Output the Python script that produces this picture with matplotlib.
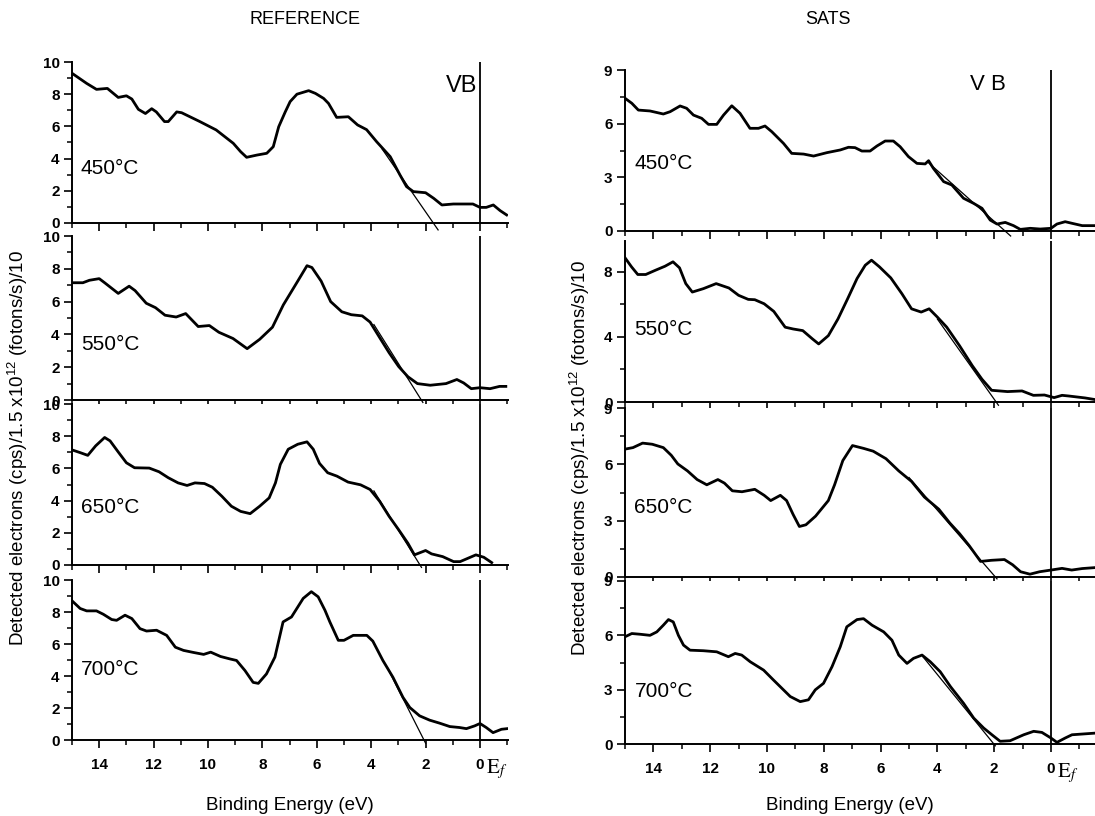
import numpy as np
import matplotlib.pyplot as plt
from matplotlib.ticker import MultipleLocator

plt.rcParams['font.family'] = ['Liberation Sans', 'DejaVu Sans']
plt.rcParams['mathtext.fontset'] = 'custom'
plt.rcParams['mathtext.rm'] = 'Liberation Sans'
plt.rcParams['mathtext.it'] = 'Liberation Sans:italic'
plt.rcParams['mathtext.bf'] = 'Liberation Sans:bold'

# valence band spectra, (binding energy eV, intensity)
ref450 = [(15, 9.3), (14.46, 8.67), (14.1, 8.3), (13.7, 8.36), (13.3, 7.8), (13.0, 7.9),
          (12.8, 7.7), (12.56, 7.06), (12.3, 6.8), (12.07, 7.1), (11.9, 6.9), (11.6, 6.3),
          (11.46, 6.3), (11.15, 6.9), (10.97, 6.85), (10.3, 6.3), (9.7, 5.78), (9.07, 4.95),
          (8.8, 4.43), (8.58, 4.08), (8.2, 4.22), (7.84, 4.33), (7.6, 4.74), (7.4, 5.98),
          (7.16, 6.9), (6.98, 7.54), (6.73, 8.0), (6.3, 8.22), (6.05, 8.05), (5.75, 7.74),
          (5.57, 7.43), (5.27, 6.56), (4.84, 6.6), (4.5, 6.09), (4.17, 5.8), (3.8, 5.05),
          (3.3, 4.12), (2.94, 2.98), (2.7, 2.26), (2.45, 1.95), (2.0, 1.88), (1.7, 1.53),
          (1.4, 1.12), (0.98, 1.18), (0.5, 1.18), (0.26, 1.18), (0, 0.97), (-0.23, 0.97),
          (-0.49, 1.12), (-0.74, 0.77), (-0.98, 0.5)]
ref550 = [(15, 7.15), (14.6, 7.15), (14.36, 7.3), (14.0, 7.4), (13.8, 7.15), (13.3, 6.5),
          (12.9, 6.94), (12.68, 6.67), (12.27, 5.9), (11.93, 5.63), (11.58, 5.17), (11.17, 5.06),
          (10.82, 5.27), (10.36, 4.48), (9.95, 4.54), (9.6, 4.13), (9.08, 3.75), (8.56, 3.13),
          (8.1, 3.7), (7.63, 4.44), (7.23, 5.8), (6.7, 7.25), (6.36, 8.19), (6.18, 8.08),
          (5.84, 7.25), (5.49, 6.0), (5.08, 5.38), (4.73, 5.2), (4.33, 5.13), (4.04, 4.75),
          (3.69, 3.81), (3.34, 2.88), (2.99, 2.04), (2.65, 1.42), (2.3, 1.0), (1.83, 0.9),
          (1.25, 1.0), (0.85, 1.25), (0.6, 1.04), (0.32, 0.69), (0, 0.75), (-0.37, 0.69),
          (-0.72, 0.83), (-0.95, 0.83)]
ref650 = [(15, 7.15), (14.7, 6.98), (14.42, 6.81), (14.13, 7.4), (13.8, 7.92), (13.6, 7.71),
          (13.3, 7.02), (13.0, 6.35), (12.7, 6.04), (12.16, 6.02), (11.8, 5.79), (11.46, 5.42),
          (11.1, 5.1), (10.77, 4.94), (10.48, 5.1), (10.13, 5.06), (9.84, 4.83), (9.49, 4.27),
          (9.14, 3.65), (8.8, 3.33), (8.45, 3.19), (8.1, 3.65), (7.75, 4.17), (7.52, 5.1),
          (7.34, 6.25), (7.05, 7.19), (6.7, 7.5), (6.36, 7.65), (6.13, 7.19), (5.9, 6.31),
          (5.6, 5.73), (5.26, 5.52), (4.85, 5.15), (4.39, 4.98), (4.04, 4.69), (3.69, 3.96),
          (3.34, 3.02), (2.99, 2.19), (2.65, 1.35), (2.41, 0.63), (2.0, 0.9), (1.78, 0.69),
          (1.37, 0.52), (0.97, 0.21), (0.73, 0.21), (0.44, 0.42), (0.15, 0.63), (-0.14, 0.48),
          (-0.43, 0.15)]
ref700 = [(15, 8.7), (14.7, 8.22), (14.46, 8.07), (14.1, 8.07), (13.85, 7.86), (13.54, 7.53),
          (13.36, 7.48), (13.05, 7.8), (12.8, 7.59), (12.5, 6.96), (12.26, 6.81), (11.89, 6.86),
          (11.52, 6.54), (11.2, 5.8), (10.9, 5.6), (10.53, 5.47), (10.16, 5.35), (9.9, 5.49),
          (9.54, 5.22), (9.2, 5.07), (8.95, 4.97), (8.64, 4.34), (8.34, 3.6), (8.15, 3.54),
          (7.85, 4.13), (7.54, 5.18), (7.24, 7.38), (6.93, 7.69), (6.5, 8.85), (6.2, 9.27),
          (5.95, 8.95), (5.7, 8.11), (5.52, 7.38), (5.21, 6.23), (5.0, 6.23), (4.66, 6.54),
          (4.16, 6.54), (3.94, 6.18), (3.57, 4.97), (3.2, 3.92), (2.83, 2.66), (2.58, 2.03),
          (2.22, 1.51), (1.85, 1.24), (1.48, 1.05), (1.11, 0.84), (0.75, 0.78), (0.5, 0.71),
          (0.2, 0.88), (0, 1.03), (-0.23, 0.78), (-0.48, 0.46), (-0.79, 0.67), (-1.0, 0.71)]

sats450 = [(15, 7.42), (14.76, 7.14), (14.53, 6.76), (14.12, 6.71), (13.65, 6.54), (13.41, 6.67),
           (13.06, 6.99), (12.83, 6.86), (12.59, 6.48), (12.3, 6.3), (12.06, 5.96), (11.77, 5.96),
           (11.53, 6.48), (11.24, 7.0), (10.95, 6.58), (10.6, 5.74), (10.3, 5.74), (10.07, 5.87),
           (9.83, 5.55), (9.42, 4.9), (9.13, 4.34), (8.71, 4.3), (8.36, 4.19), (7.89, 4.38),
           (7.42, 4.53), (7.13, 4.68), (6.9, 4.66), (6.66, 4.47), (6.37, 4.47), (6.13, 4.75),
           (5.84, 5.03), (5.55, 5.03), (5.31, 4.71), (5.02, 4.16), (4.72, 3.78), (4.43, 3.75),
           (4.31, 3.93), (4.14, 3.5), (3.78, 2.76), (3.49, 2.57), (3.08, 1.83), (2.73, 1.55),
           (2.43, 1.27), (2.14, 0.61), (1.9, 0.39), (1.61, 0.48), (1.32, 0.3), (1.08, 0.09),
           (0.73, 0.15), (0.38, 0.11), (0, 0.15), (-0.21, 0.39), (-0.5, 0.52), (-0.74, 0.43),
           (-1.1, 0.3), (-1.55, 0.3)]
sats550 = [(15, 8.87), (14.77, 8.31), (14.55, 7.84), (14.27, 7.84), (13.93, 8.1), (13.59, 8.35),
           (13.31, 8.62), (13.08, 8.25), (12.86, 7.28), (12.63, 6.76), (12.24, 6.97), (11.79, 7.28),
           (11.34, 7.01), (11.0, 6.56), (10.66, 6.31), (10.43, 6.29), (10.1, 6.04), (9.76, 5.57),
           (9.36, 4.6), (9.08, 4.49), (8.74, 4.39), (8.4, 3.88), (8.18, 3.57), (7.84, 4.08),
           (7.5, 5.11), (7.16, 6.35), (6.83, 7.59), (6.54, 8.41), (6.32, 8.72), (6.04, 8.31),
           (5.64, 7.63), (5.25, 6.66), (4.91, 5.73), (4.57, 5.53), (4.29, 5.73), (4.0, 5.22),
           (3.67, 4.6), (3.22, 3.46), (2.77, 2.23), (2.43, 1.4), (2.09, 0.72), (1.53, 0.64),
           (1.02, 0.68), (0.62, 0.41), (0.23, 0.43), (-0.11, 0.27), (-0.39, 0.41), (-0.62, 0.37),
           (-1.2, 0.25), (-1.55, 0.15)]
sats650 = [(15, 6.81), (14.72, 6.89), (14.38, 7.13), (14.04, 7.07), (13.65, 6.89), (13.37, 6.48),
           (13.14, 6.02), (12.8, 5.65), (12.46, 5.19), (12.12, 4.91), (11.73, 5.19), (11.5, 5.0),
           (11.22, 4.59), (10.88, 4.54), (10.43, 4.67), (10.1, 4.35), (9.87, 4.07), (9.53, 4.35),
           (9.31, 4.07), (9.08, 3.33), (8.86, 2.69), (8.63, 2.78), (8.29, 3.24), (7.84, 4.07),
           (7.62, 4.91), (7.33, 6.2), (6.99, 7.0), (6.6, 6.85), (6.26, 6.7), (5.81, 6.3),
           (5.36, 5.65), (4.91, 5.09), (4.46, 4.26), (3.95, 3.61), (3.56, 2.87), (3.22, 2.31),
           (2.88, 1.67), (2.48, 0.83), (2.09, 0.89), (1.64, 0.93), (1.35, 0.65), (1.07, 0.28),
           (0.74, 0.15), (0.4, 0.28), (0, 0.37), (-0.39, 0.46), (-0.73, 0.37), (-1.1, 0.45),
           (-1.55, 0.5)]
sats700 = [(15, 5.92), (14.76, 6.1), (14.47, 6.06), (14.12, 6.0), (13.88, 6.19), (13.65, 6.56),
           (13.47, 6.87), (13.3, 6.74), (13.12, 6.0), (12.94, 5.46), (12.71, 5.18), (12.24, 5.15),
           (11.77, 5.09), (11.36, 4.82), (11.12, 5.0), (10.89, 4.91), (10.59, 4.54), (10.12, 4.08),
           (9.77, 3.53), (9.42, 2.99), (9.18, 2.62), (8.83, 2.34), (8.54, 2.44), (8.3, 2.99),
           (8.01, 3.35), (7.71, 4.27), (7.42, 5.37), (7.19, 6.47), (6.83, 6.87), (6.6, 6.92),
           (6.3, 6.56), (5.89, 6.19), (5.6, 5.73), (5.36, 4.91), (5.07, 4.45), (4.84, 4.73),
           (4.54, 4.91), (4.25, 4.54), (3.9, 3.99), (3.54, 3.17), (3.08, 2.25), (2.72, 1.43),
           (2.37, 0.88), (2.08, 0.51), (1.79, 0.15), (1.44, 0.18), (0.96, 0.51), (0.61, 0.7),
           (0.32, 0.64), (0, 0.33), (-0.21, 0.09), (-0.5, 0.33), (-0.74, 0.51), (-1.1, 0.55),
           (-1.55, 0.6)]

# linear extrapolation of the leading edge
ref450_fit = [(3.6, 4.6), (1.54, -0.43)]
ref550_fit = [(3.9, 4.6), (2.1, -0.15)]
ref650_fit = [(3.9, 4.6), (2.15, -0.15)]
ref700_fit = [(3.4, 4.5), (2.0, -0.2)]
sats450_fit = [(4.3, 3.8), (1.42, -0.28)]
sats550_fit = [(4.0, 5.1), (1.85, -0.2)]
sats650_fit = [(5.0, 5.3), (1.9, -0.1)]
sats700_fit = [(4.5, 4.8), (1.96, -0.1)]

labels = ['450°C', '550°C', '650°C', '700°C']

W, H = 1095, 816
fig = plt.figure(figsize=(W / 100, H / 100), dpi=100)


def box(left, right, top, bottom):
    return [left / W, 1 - bottom / H, (right - left) / W, (bottom - top) / H]


# (data, fit, label, ytop, major, minor, pixel box, label y frac, xright)
panels = [
    (ref450, ref450_fit, labels[0], 10, 2, 1, (72, 508, 62, 223), 0.34, -1.03),
    (ref550, ref550_fit, labels[1], 10, 2, 1, (72, 508, 236, 400), 0.34, -1.03),
    (ref650, ref650_fit, labels[2], 10, 2, 1, (72, 508, 404, 565), 0.36, -1.03),
    (ref700, ref700_fit, labels[3], 10, 2, 1, (72, 508, 580, 740), 0.44, -1.03),
    (sats450, sats450_fit, labels[0], 9, 3, 1.5, (625, 1095, 70, 231), 0.42, -1.55),
    (sats550, sats550_fit, labels[1], 9.9, 4, 2, (625, 1095, 241, 402), 0.45, -1.55),
    (sats650, sats650_fit, labels[2], 9, 3, 1.5, (625, 1095, 408, 577), 0.41, -1.55),
    (sats700, sats700_fit, labels[3], 9, 3, 1.5, (625, 1095, 581, 744), 0.32, -1.55),
]

for k, (data, fit, lab, ytop, major, minor, pix, ly, xr) in enumerate(panels):
    ax = fig.add_axes(box(*pix))
    e, v = zip(*data)
    ax.plot(e, v, color='black', lw=2.0)
    fe, fv = zip(*fit)
    ax.plot(fe, fv, color='black', lw=0.9, clip_on=False)
    ax.axvline(0, color='black', lw=1.3)
    ax.set_xlim(15, xr)
    ax.set_ylim(0, ytop)
    for s in ['top', 'right']:
        ax.spines[s].set_visible(False)
    for s in ['left', 'bottom']:
        ax.spines[s].set_linewidth(1.4)
    ax.xaxis.set_major_locator(MultipleLocator(2))
    ax.xaxis.set_minor_locator(MultipleLocator(1))
    ax.yaxis.set_major_locator(MultipleLocator(major))
    ax.yaxis.set_minor_locator(MultipleLocator(minor))
    ax.tick_params(which='major', direction='out', length=6, width=1.2,
                   labelsize=11, pad=3)
    ax.tick_params(which='minor', direction='out', length=3.5, width=1.1)
    for t in ax.get_yticklabels():
        t.set_fontweight('bold')
    ax.text(0.02, ly, lab, transform=ax.transAxes, fontsize=15, va='center')
    if k == 0:
        ax.text(0.894, 0.85, 'VB', transform=ax.transAxes, fontsize=17,
                ha='center', va='center')
    if k == 4:
        ax.text(0.772, 0.907, 'V B', transform=ax.transAxes, fontsize=16,
                ha='center', va='center')
    if k % 4 == 3:
        for t in ax.get_xticklabels():
            t.set_fontweight('bold')
        ax.tick_params(axis='x', pad=7)
        ax.annotate(r'$\mathrm{E}_f$', xy=(0, 0), xycoords=('data', 'axes fraction'),
                    xytext=(4, -21), textcoords='offset points', ha='left', va='center',
                    fontsize=15, math_fontfamily='stix')
    else:
        ax.tick_params(axis='x', labelbottom=False)

ylab = 'Detected electrons (cps)/1.5 x10$^{12}$ (fotons/s)/10'
fig.text(18 / W, 1 - 448 / H, ylab, rotation=90, ha='center', va='center', fontsize=13.5)
fig.text(580 / W, 1 - 458 / H, ylab, rotation=90, ha='center', va='center', fontsize=13.5)
fig.text(290 / W, 1 - 805 / H, 'Binding Energy (eV)', ha='center', va='center', fontsize=13.5)
fig.text(850 / W, 1 - 805 / H, 'Binding Energy (eV)', ha='center', va='center', fontsize=13.5)
fig.text(305 / W, 1 - 20 / H, 'REFERENCE', ha='center', va='center', fontsize=13)
fig.text(828 / W, 1 - 20 / H, 'SATS', ha='center', va='center', fontsize=13)

fig.savefig('out.png', dpi=100)
